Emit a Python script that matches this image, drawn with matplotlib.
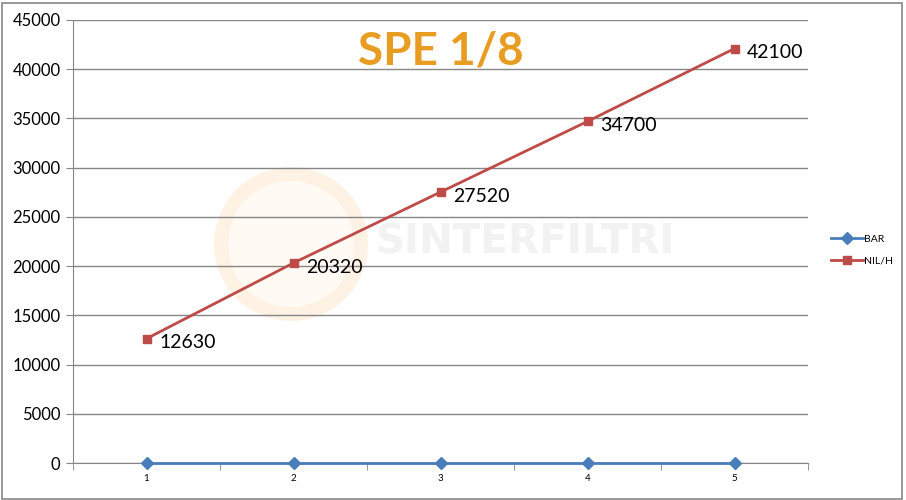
import numpy as np
import matplotlib
matplotlib.use('Agg')
import matplotlib.pyplot as plt
from matplotlib.patches import Ellipse, Rectangle

plt.rcParams['font.family'] = ['Lato', 'DejaVu Sans']

x = [1, 2, 3, 4, 5]
bar = [0, 0, 0, 0, 0]
nil_h = [12630, 20320, 27520, 34700, 42100]
yticks = np.arange(0, 45001, 5000)

fig = plt.figure(figsize=(9.06, 5.0), dpi=100)
ax = fig.add_axes([73/906, 37/500, 735/906, 443/500])

# faint logo watermark
ax.add_patch(Ellipse((291/906, 1 - 244/500), 140/906, 140/500, transform=fig.transFigure,
                     facecolor='#fffaf4', edgecolor='#fdf2e4', lw=10, zorder=0))
ax.text((375 - 73)/735, (500 - 243 - 37)/443, 'SINTERFILTRI', transform=ax.transAxes,
        fontsize=29, fontweight='bold', color='#f2f2f2', va='center', ha='left', zorder=0,
        family=['DejaVu Sans'])

ax.plot(x, bar, color='#4a7ebb', lw=2, marker='D', ms=6, label='BAR', zorder=3, clip_on=False)
ax.plot(x, nil_h, color='#be4b48', lw=2, marker='s', ms=6, label='NIL/H', zorder=3)

for xi, yi in zip(x, nil_h):
    ax.annotate(str(yi), (xi, yi), xytext=(9, -3), textcoords='offset points',
                fontsize=14, va='center', ha='left', color='black')

ax.set_xlim(0.5, 5.5)
ax.set_ylim(0, 45000)
ax.set_yticks(yticks)
ax.set_yticklabels([str(v) for v in yticks], fontsize=12)
ax.set_xticks(x)
ax.set_xticklabels([str(v) for v in x], fontsize=7)
ax.set_xticks(np.arange(0.5, 5.6, 1), minor=True)
ax.tick_params(axis='x', which='major', length=0, pad=8)
ax.tick_params(axis='x', which='minor', length=5, color='#868686', direction='out')
ax.tick_params(axis='y', length=5, color='#868686', pad=4)
ax.grid(axis='y', color='#868686', lw=1)
ax.set_axisbelow(True)
for s in ['top', 'right']:
    ax.spines[s].set_visible(False)
for s in ['left', 'bottom']:
    ax.spines[s].set_color('#868686')

ax.text(0.5, 0.93, 'SPE 1/8', transform=ax.transAxes, ha='center', va='center',
        fontsize=33, fontweight='bold', color='#e89d22')

leg = fig.legend(loc='center left', bbox_to_anchor=(822/906, 1 - 250/500), frameon=False,
                 fontsize=7.5, handlelength=3, labelspacing=1.2, handletextpad=0.1)

fig.patches.append(Rectangle((0.002, 0.003), 0.994, 0.992, transform=fig.transFigure,
                             fill=False, edgecolor='#868686', lw=1.2))

fig.savefig('out.png', dpi=100)
